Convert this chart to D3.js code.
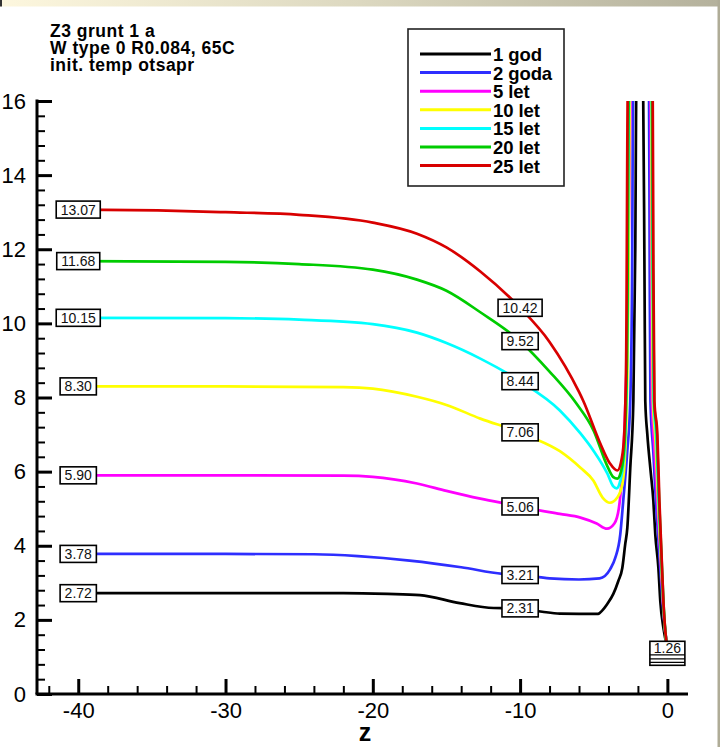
<!DOCTYPE html>
<html>
<head>
<meta charset="utf-8">
<script src="https://cdn.jsdelivr.net/npm/d3@7"></script>
<style>
  html, body { margin: 0; padding: 0; background: #ffffff; }
  svg { display: block; }
  text { font-family: "Liberation Sans", Arial, sans-serif; }
</style>
</head>
<body>
<svg id="chart" width="720" height="747"></svg>
<script>
// Temperature profiles along depth z for successive years of operation.
const seriesNames = ["1 god", "2 goda", "5 let", "10 let", "15 let", "20 let", "25 let"];
const seriesColors = ["#000000", "#2e2eff", "#ff00ff", "#ffff00", "#00ffff", "#00cc00", "#d80000"];

// [z, T] points for each series
const god1 = [[-40,2.72],[-30,2.72],[-22,2.72],[-19,2.70],[-16.8,2.67],[-14.1,2.45],[-11.8,2.32],[-10,2.31],[-8.5,2.22],[-7.3,2.17],[-4.7,2.16],[-4.56,2.2],[-4.08,2.43],[-3.67,2.7],[-3.33,3.05],[-3.06,3.4],[-2.86,4.05],[-2.72,4.48],[-2.52,6.1],[-2.31,7.9],[-2.18,12],[-2.1,16.5],[-1.65,16.5],[-1.55,11],[-1.5,7.9],[-1.36,7.0],[-1.16,6.1],[-0.95,5.2],[-0.82,4.3],[-0.61,3.4],[-0.48,2.5],[-0.27,1.78],[0,1.26]];
const goda2 = [[-40,3.78],[-30,3.78],[-24,3.77],[-21,3.72],[-17.5,3.6],[-14,3.42],[-11.2,3.24],[-10,3.21],[-8,3.12],[-6,3.09],[-4.6,3.12],[-3.88,3.37],[-3.54,3.67],[-3.2,4.3],[-3.0,5.2],[-2.72,6.57],[-2.52,7.9],[-2.4,11],[-2.32,16.5],[-1.25,16.5],[-1.2,11.5],[-1.15,7.9],[-0.95,6.5],[-0.75,5.0],[-0.55,3.8],[-0.35,2.6],[-0.12,1.6],[0,1.26]];
const let5 = [[-40,5.90],[-30,5.90],[-22,5.89],[-20,5.86],[-17,5.68],[-15,5.48],[-12.7,5.27],[-10,5.06],[-9.3,5.0],[-7.3,4.86],[-5.9,4.76],[-4.8,4.6],[-4.1,4.46],[-3.6,4.6],[-3.3,5.0],[-3.1,5.8],[-2.9,7.3],[-2.7,10],[-2.46,16.5],[-1.15,16.5],[-1.1,11.5],[-1.05,7.9],[-0.88,6.6],[-0.66,5.0],[-0.48,3.8],[-0.3,2.5],[-0.1,1.5],[0,1.26]];
const let10 = [[-40,8.30],[-30,8.30],[-22,8.28],[-20,8.24],[-17,8.02],[-15,7.8],[-12.7,7.43],[-10,7.06],[-9.3,6.94],[-7.3,6.55],[-5.92,6.11],[-5.03,5.76],[-4.4,5.3],[-3.9,5.16],[-3.4,5.3],[-3.05,5.67],[-2.86,6.57],[-2.7,9],[-2.52,16.5],[-1.1,16.5],[-1.05,11.5],[-0.98,7.9],[-0.8,6.8],[-0.62,5.1],[-0.46,3.85],[-0.29,2.5],[-0.09,1.47],[0,1.26]];
const let15 = [[-40,10.15],[-30,10.14],[-25,10.1],[-20,9.98],[-17,9.75],[-15,9.47],[-12.7,9.05],[-10,8.44],[-7.3,7.65],[-5.9,7.03],[-5.03,6.57],[-4.08,5.95],[-3.67,5.6],[-3.45,5.55],[-3.2,5.75],[-3.0,6.2],[-2.86,7.0],[-2.75,9],[-2.58,16.5],[-1.07,16.5],[-1.0,11.5],[-0.93,7.9],[-0.75,6.9],[-0.58,5.1],[-0.43,3.85],[-0.28,2.5],[-0.08,1.45],[0,1.26]];
const let20 = [[-40,11.68],[-30,11.66],[-25,11.6],[-20,11.45],[-17,11.18],[-15,10.88],[-12.7,10.3],[-10,9.52],[-8,8.7],[-6.2,7.85],[-5.0,7.1],[-4.08,6.15],[-3.67,5.85],[-3.4,5.81],[-3.15,6.0],[-3.0,6.35],[-2.86,7.2],[-2.72,10],[-2.62,16.5],[-1.04,16.5],[-0.98,11.5],[-0.9,7.9],[-0.71,7.0],[-0.56,5.2],[-0.42,3.9],[-0.27,2.5],[-0.08,1.44],[0,1.26]];
const let25 = [[-40,13.07],[-34.6,13.05],[-30,13.0],[-25,12.93],[-20,12.72],[-17,12.42],[-15,12.05],[-12.7,11.4],[-10,10.42],[-8,9.5],[-6,8.15],[-5.7,7.9],[-4.6,6.8],[-3.9,6.22],[-3.4,6.03],[-3.1,6.35],[-2.93,7.0],[-2.8,9],[-2.68,16.5],[-1.0,16.5],[-0.95,11.5],[-0.88,7.9],[-0.68,7.0],[-0.54,5.2],[-0.41,3.9],[-0.27,2.5],[-0.07,1.43],[0,1.26]];
const allSeries = [god1, goda2, let5, let10, let15, let20, let25];

// Value labels placed on the curves
const leftLabelZ = -40;
const leftLabels = ["2.72", "3.78", "5.90", "8.30", "10.15", "11.68", "13.07"];
const midLabelZ = -10;
const midLabels = ["2.31", "3.21", "5.06", "7.06", "8.44", "9.52", "10.42"];
const endLabel = "1.26";

const xTicks = [-40, -30, -20, -10, 0];
const yTicks = [0, 2, 4, 6, 8, 10, 12, 14, 16];
const titleLines = ["Z3 grunt 1 a", "W type 0 R0.084, 65C", "init. temp otsapr"];

const svg = d3.select("#chart");

// slide frame: top band and right edge
const defs = svg.append("defs");
const grad = defs.append("linearGradient").attr("id", "band").attr("x1", "0").attr("x2", "1");
grad.append("stop").attr("offset", "0").attr("stop-color", "#fdf7de");
grad.append("stop").attr("offset", "0.5").attr("stop-color", "#dcd8c0");
grad.append("stop").attr("offset", "1").attr("stop-color", "#b4b19c");
svg.append("rect").attr("x", 0).attr("y", 0).attr("width", 720).attr("height", 6.5).attr("fill", "url(#band)");
svg.append("rect").attr("x", 0).attr("y", 0).attr("width", 2).attr("height", 6.5).attr("fill", "#333");
svg.append("rect").attr("x", 717.5).attr("y", 0).attr("width", 2.5).attr("height", 747).attr("fill", "#afac97");

const x = d3.scaleLinear().domain([-42.8, 1.4]).range([37, 688]);
const y = d3.scaleLinear().domain([0, 16]).range([694, 101]);

defs.append("clipPath").attr("id", "plotClip")
  .append("rect").attr("x", x.range()[0]).attr("y", y(16)).attr("width", x.range()[1] - x.range()[0] + 4).attr("height", y(0) - y(16));

// curves
const line = d3.line().x(d => x(d[0])).y(d => y(d[1])).curve(d3.curveMonotoneX);
const curves = svg.append("g").attr("clip-path", "url(#plotClip)");
allSeries.forEach((s, i) => {
  curves.append("path").datum(s).attr("d", line)
    .attr("fill", "none").attr("stroke", seriesColors[i]).attr("stroke-width", 2.7)
    .attr("stroke-linejoin", "round");
});

// axes with inward ticks
const xMinor = d3.range(-42, 1, 2).filter(v => v % 10 !== 0);
const yMinor = d3.range(0, 16.01, 0.4).filter(v => Math.abs(v / 2 - Math.round(v / 2)) > 1e-6);
const plainNum = d => String(d);

const xAxisG = svg.append("g").attr("transform", `translate(0,${y(0)})`);
xAxisG.call(d3.axisBottom(x).tickValues(xMinor).tickSize(-8).tickSizeOuter(0).tickFormat(""));
xAxisG.selectAll(".tick line").attr("stroke-width", 2);
xAxisG.select(".domain").attr("stroke-width", 3).attr("d", `M${x.range()[0] - 1.5},0H${x.range()[1]}`);
const xAxisMajor = svg.append("g").attr("transform", `translate(0,${y(0)})`)
  .call(d3.axisBottom(x).tickValues(xTicks).tickSize(-15).tickSizeOuter(0).tickPadding(8).tickFormat(plainNum));
xAxisMajor.select(".domain").remove();
xAxisMajor.selectAll(".tick line").attr("stroke-width", 3);
xAxisMajor.selectAll(".tick text").attr("font-size", 22).attr("fill", "#000");

const yAxisG = svg.append("g").attr("transform", `translate(${x.range()[0]},0)`);
yAxisG.call(d3.axisLeft(y).tickValues(yMinor).tickSize(-8).tickSizeOuter(0).tickFormat(""));
yAxisG.selectAll(".tick line").attr("stroke-width", 2);
yAxisG.select(".domain").attr("stroke-width", 3).attr("d", `M0,${y(0)}V${y(16) - 1.5}`);
const yAxisMajor = svg.append("g").attr("transform", `translate(${x.range()[0]},0)`)
  .call(d3.axisLeft(y).tickValues(yTicks).tickSize(-15).tickSizeOuter(0).tickPadding(11).tickFormat(plainNum));
yAxisMajor.select(".domain").remove();
yAxisMajor.selectAll(".tick line").attr("stroke-width", 3);
yAxisMajor.selectAll(".tick text").attr("font-size", 22).attr("fill", "#000");

svg.append("text").attr("x", 365).attr("y", 741).attr("text-anchor", "middle")
  .attr("font-size", 25).attr("font-weight", "bold").text("z");

// on-curve value labels
const labelLayer = svg.append("g");
function boxLabel(zv, tv, txt) {
  const g = labelLayer.append("g").attr("transform", `translate(${x(zv)},${y(tv)})`);
  const r = g.append("rect").attr("fill", "#fff").attr("stroke", "#000").attr("stroke-width", 1.6);
  const t = g.append("text").attr("text-anchor", "middle").attr("dy", "0.36em")
    .attr("font-size", 14).attr("fill", "#111").text(txt);
  const w = t.node().getComputedTextLength() + 9;
  r.attr("x", -w / 2).attr("y", -8.5).attr("width", w).attr("height", 17);
}
allSeries.forEach((s, i) => {
  const p0 = s.find(d => d[0] === leftLabelZ);
  boxLabel(p0[0], p0[1], leftLabels[i]);
  const p1 = s.find(d => d[0] === midLabelZ);
  boxLabel(p1[0], p1[1], midLabels[i]);
});
// end labels coincide at z = 0; they stack into one tag
{
  const pe = let25[let25.length - 1];
  const g = labelLayer.append("g").attr("transform", `translate(${x(pe[0])},${y(pe[1])})`);
  const w = 35;
  g.append("rect").attr("x", -w / 2).attr("y", -6).attr("width", w).attr("height", 24)
    .attr("fill", "#fff").attr("stroke", "#000").attr("stroke-width", 1.6);
  [7.5, 11.5, 15].forEach(dy => g.append("line").attr("x1", -w / 2).attr("x2", w / 2)
    .attr("y1", dy).attr("y2", dy).attr("stroke", "#000").attr("stroke-width", 1.2));
  g.append("text").attr("text-anchor", "middle").attr("y", 5.5).attr("font-size", 14)
    .attr("fill", "#111").text(endLabel);
}

// title block
svg.append("g").selectAll("text").data(titleLines).join("text")
  .attr("x", 50).attr("y", (d, i) => 37 + i * 17)
  .attr("font-size", 17.5).attr("font-weight", "bold").attr("letter-spacing", 0.5).text(d => d);

// legend
const lg = svg.append("g");
lg.append("rect").attr("x", 408).attr("y", 29).attr("width", 156).attr("height", 157)
  .attr("fill", "#fff").attr("stroke", "#222").attr("stroke-width", 1.6);
seriesNames.forEach((n, i) => {
  const yy = 54 + i * 18.6;
  lg.append("line").attr("x1", 420).attr("x2", 491).attr("y1", yy).attr("y2", yy)
    .attr("stroke", seriesColors[i]).attr("stroke-width", 3);
  lg.append("text").attr("x", 493).attr("y", yy + 7).attr("font-size", 18.5)
    .attr("font-weight", "bold").attr("letter-spacing", -0.1).text(n);
});
</script>
</body>
</html>
